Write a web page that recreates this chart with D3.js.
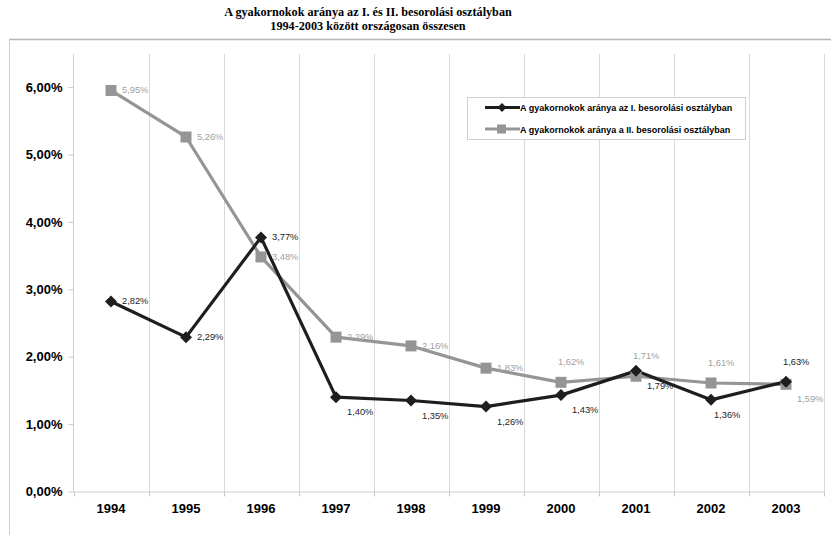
<!DOCTYPE html>
<html><head><meta charset="utf-8">
<script src="https://cdn.jsdelivr.net/npm/d3@7"></script>
<style>body{margin:0;background:#fff}svg{display:block}</style>
</head><body>
<svg id="c" width="831" height="535"></svg>
<script>
const titleLines = ["A gyakornokok aránya az I. és II. besorolási osztályban", "1994-2003 között országosan összesen"];
const years = ["1994","1995","1996","1997","1998","1999","2000","2001","2002","2003"];
const seriesNames = ["A gyakornokok aránya az I. besorolási osztályban", "A  gyakornokok aránya a II. besorolási osztályban"];
const valuesI  = [2.82, 2.29, 3.77, 1.40, 1.35, 1.26, 1.43, 1.79, 1.36, 1.63];
const valuesII = [5.95, 5.26, 3.48, 2.29, 2.16, 1.83, 1.62, 1.71, 1.61, 1.59];
const yTicks = [0, 1, 2, 3, 4, 5, 6];
// label placement per point: r = right, br = below-right, b = below, a = above
const placeI  = ["r","r","r","br","br","br","br","br","b","a"];
const placeII = ["r","r","r","r","r","r","a","a","a","br"];

const svg = d3.select("#c");
const fmt = v => v.toFixed(2).replace(".", ",") + "%";

const m = {l: 73.5, r: 823.5, t: 54, b: 491.5};
const x = d3.scaleBand().domain(years).range([m.l, m.r]);
const y = d3.scaleLinear().domain([0, 6]).range([m.b, m.b - 6 * 67.4]);

// frame lines
svg.append("line").attr("x1", 9).attr("x2", 831).attr("y1", 39.5).attr("y2", 39.5).attr("stroke", "#b5b5b5").attr("stroke-width", 1.5);
svg.append("line").attr("x1", 9.5).attr("x2", 9.5).attr("y1", 39.5).attr("y2", 535).attr("stroke", "#d0d0d0").attr("stroke-width", 1);

// title
svg.append("g").selectAll("text").data(titleLines).join("text")
  .attr("x", 368).attr("y", (d, i) => 16 + i * 14)
  .attr("text-anchor", "middle")
  .style("font-family", "'Liberation Serif','Times New Roman',serif")
  .style("font-weight", "bold").style("font-size", "12.2px").attr("fill", "#000")
  .text(d => d);

// vertical gridlines at band boundaries
const bounds = years.map(d => x(d)).concat([m.r]);
svg.append("g").selectAll("line").data(bounds.slice(1)).join("line")
  .attr("x1", d => Math.round(d) + 0.5).attr("x2", d => Math.round(d) + 0.5)
  .attr("y1", m.t).attr("y2", m.b)
  .attr("stroke", "#d9d9d9").attr("stroke-width", 1);

// y axis
const yAxis = svg.append("g").attr("transform", `translate(${m.l},0)`)
  .call(d3.axisLeft(y).tickValues(yTicks).tickFormat(d => fmt(d)).tickSize(5).tickPadding(6));
yAxis.select(".domain").attr("stroke", "#d0d0d0").attr("d", `M0,${m.t}V${m.b}`);
yAxis.selectAll(".tick line").attr("stroke", "#c8c8c8");
yAxis.selectAll("text").attr("fill", "#000")
  .style("font-family", "'Liberation Sans',Arial,sans-serif").style("font-weight", "bold").style("font-size", "13px");

// x axis
const xAxis = svg.append("g").attr("transform", `translate(0,${m.b})`)
  .call(d3.axisBottom(x).tickSize(0).tickPadding(12));
xAxis.select(".domain").attr("stroke", "#d0d0d0");
xAxis.selectAll("text").attr("fill", "#000")
  .style("font-family", "'Liberation Sans',Arial,sans-serif").style("font-weight", "bold").style("font-size", "13px");
svg.append("g").selectAll("line").data(bounds).join("line")
  .attr("x1", d => Math.round(d) + 0.5).attr("x2", d => Math.round(d) + 0.5)
  .attr("y1", m.b).attr("y2", m.b + 5).attr("stroke", "#c8c8c8");

const cx = d => x(d) + x.bandwidth() / 2;
const line = d3.line().x(d => cx(d.year)).y(d => y(d.v));
const dataI = years.map((yr, i) => ({year: yr, v: valuesI[i], p: placeI[i]}));
const dataII = years.map((yr, i) => ({year: yr, v: valuesII[i], p: placeII[i]}));

const colI = "#1e1e1e", colII = "#959595";

svg.append("path").datum(dataII).attr("d", line).attr("fill", "none").attr("stroke", colII).attr("stroke-width", 3.2).attr("stroke-linejoin", "round");
svg.append("path").datum(dataI).attr("d", line).attr("fill", "none").attr("stroke", colI).attr("stroke-width", 3.2).attr("stroke-linejoin", "round");

svg.append("g").selectAll("rect").data(dataII).join("rect")
  .attr("x", d => cx(d.year) - 5.5).attr("y", d => y(d.v) - 5.5)
  .attr("width", 11).attr("height", 11).attr("fill", colII);
svg.append("g").selectAll("path").data(dataI).join("path")
  .attr("transform", d => `translate(${cx(d.year)},${y(d.v)})`)
  .attr("d", "M0,-6L6,0L0,6L-6,0Z").attr("fill", colI);

function labels(data, col) {
  svg.append("g").selectAll("text").data(data).join("text")
    .attr("x", d => cx(d.year) + (d.p === "r" ? 11 : d.p === "br" ? 11 : d.p === "b" ? 3 : -3))
    .attr("y", d => y(d.v) + (d.p === "r" ? 0 : d.p === "a" ? -20 : 15) + 3)
    .attr("fill", col)
    .style("font-family", "'Liberation Sans',Arial,sans-serif").style("font-size", "9.3px")
    .text(d => fmt(d.v));
}
labels(dataII, "#a0a0a0");
labels(dataI, "#222");

// legend
const lg = svg.append("g");
lg.append("rect").attr("x", 467.5).attr("y", 97.5).attr("width", 278).attr("height", 42)
  .attr("fill", "#fff").attr("stroke", "#d0d0d0");
const legendItems = [{name: seriesNames[0], col: colI, k: "d"}, {name: seriesNames[1], col: colII, k: "s"}];
const li = lg.selectAll("g").data(legendItems).join("g")
  .attr("transform", (d, i) => `translate(0,${107.5 + i * 21.5})`);
li.append("line").attr("x1", 485).attr("x2", 520).attr("stroke", d => d.col).attr("stroke-width", 3.2);
li.filter(d => d.k === "d").append("path").attr("d", "M502,-4.5L506.5,0L502,4.5L497.5,0Z").attr("fill", colI);
li.filter(d => d.k === "s").append("rect").attr("x", 497).attr("y", -4.5).attr("width", 9).attr("height", 9).attr("fill", colII);
li.append("text").attr("x", 520).attr("y", 3.5)
  .style("font-family", "'Liberation Sans',Arial,sans-serif").style("font-weight", "bold").style("font-size", "9px")
  .attr("fill", "#000").text(d => d.name);
</script>
</body></html>
